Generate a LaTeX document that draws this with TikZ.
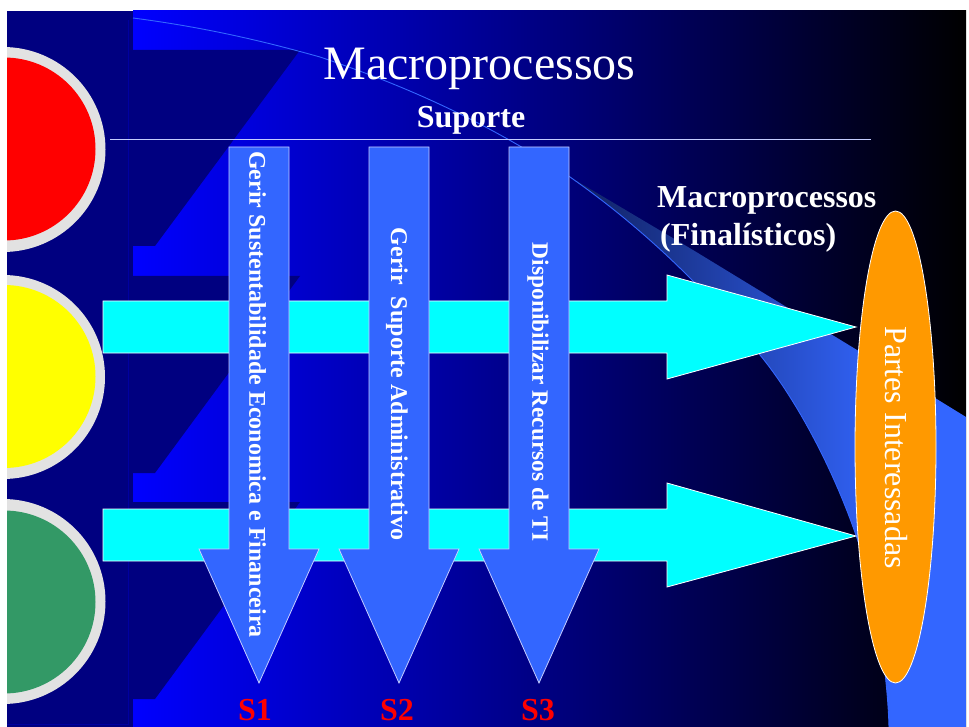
\documentclass[tikz,border=0pt]{standalone}
\usepackage{fontspec}
\usetikzlibrary{shapes.geometric}
\setmainfont{Liberation Serif}
\definecolor{navy}{HTML}{000080}
\definecolor{navyline}{HTML}{0000A0}
\definecolor{panelblue}{HTML}{3366FF}
\definecolor{ruleline}{HTML}{C4CCFF}
\definecolor{ringgrey}{HTML}{E2E2E2}
\definecolor{amber}{HTML}{FF9900}
\definecolor{lampgreen}{HTML}{339966}
\definecolor{lampyellow}{HTML}{FFFF00}
\definecolor{lampred}{HTML}{FF0000}
\definecolor{aqua}{HTML}{00FFFF}
\definecolor{wedgedark}{HTML}{102060}
\newcommand{\sweepcurve}{(133,18) .. controls (210,28) and (270,43) .. (320,57) .. controls (400,84) and (480,118) .. (570,177) .. controls (640,226) and (700,283) .. (760,355) .. controls (805,410) and (852,505) .. (872,590) .. controls (882,640) and (888,690) .. (889,727)}
\tikzset{
  x=1pt,y=-1pt,
  downarrow/.style={fill=panelblue,draw=ruleline,line width=0.8pt,line join=miter},
  rightarrow/.style={fill=aqua,draw=white,line width=0.8pt,line join=miter},
  backshape/.style={fill=navy},
  ringdisc/.style={fill=ringgrey},
  whitetext/.style={text=white,inner sep=0pt,font=\fontsize{#1}{#1}\selectfont},
  whitebold/.style={text=white,inner sep=0pt,font=\fontsize{#1}{#1}\selectfont\bfseries},
  redlabel/.style={text=lampred,inner sep=0pt,anchor=base,font=\fontsize{32}{32}\selectfont\bfseries},
}
\begin{document}
\begin{tikzpicture}
\useasboundingbox (0,0) rectangle (969,727);
\fill[white] (0,0) rectangle (969,727);
% background panels
\fill[navy] (7,11) rectangle (133,727);
\shade[left color=blue,right color=black] (133,11) rectangle (966,727);
% repeated dark pattern
\fill[backshape] (133,50) -- (300,50) -- (155,246) -- (133,246) -- cycle;
\fill[backshape] (133,276) -- (300,276) -- (155,473) -- (133,473) -- cycle;
\fill[backshape] (133,502) -- (300,502) -- (155,699) -- (133,699) -- cycle;
\draw[navyline,line width=0.6pt] (128.5,20) -- (128.5,724) -- (7,724);
% sweeping wedge
\begin{scope}
  \clip (570,177) -- (693,250) -- (857,350) -- (966,417) -- (966,727) -- (889,727)
        .. controls (888,690) and (882,640) .. (872,590)
        .. controls (852,505) and (805,410) .. (760,355)
        .. controls (700,283) and (640,226) .. (570,177) -- cycle;
  \shade[left color=wedgedark,right color=panelblue] (570,170) rectangle (892,727);
  \fill[panelblue] (891,170) rectangle (966,727);
\end{scope}
\draw[panelblue,line width=0.9pt] \sweepcurve;
% lamps
\begin{scope}
  \clip (7,11) rectangle (133,727);
  \fill[ringdisc] (3,149.5) circle[radius=102.5];
  \fill[lampred] (4,149) circle[radius=91.5];
  \fill[ringdisc] (3,377) circle[radius=102];
  \fill[lampyellow] (4,376.5) circle[radius=91.5];
  \fill[ringdisc] (3,601.5) circle[radius=102.5];
  \fill[lampgreen] (4,602) circle[radius=91.5];
\end{scope}
% rule
\draw[ruleline,line width=0.7pt] (110,139.5) -- (871,139.5);
% horizontal arrows
\draw[rightarrow] (103,301) -- (667,301) -- (667,275) -- (856,327) -- (667,379) -- (667,353) -- (103,353) -- cycle;
\draw[rightarrow] (103,509) -- (667,509) -- (667,483) -- (856,536) -- (667,587) -- (667,561) -- (103,561) -- cycle;
% vertical arrows
\draw[downarrow] (229,147) -- (289,147) -- (289,549) -- (319,549) -- (259,683) -- (199,549) -- (229,549) -- cycle;
\draw[downarrow] (369,147) -- (429,147) -- (429,549) -- (459,549) -- (399,683) -- (339,549) -- (369,549) -- cycle;
\draw[downarrow] (509,147) -- (569,147) -- (569,549) -- (599,549) -- (539,683) -- (479,549) -- (509,549) -- cycle;
% ellipse
\node[draw=white,fill=amber,line width=0.8pt,ellipse,minimum width=81pt,minimum height=472pt,inner sep=0pt,anchor=center] (party) at (895.5,447) {};
\node[whitetext=32,rotate=-90] (partytext) at (896,447.5) {Partes Interessadas};
% titles
\node[whitetext=48,anchor=base] (title) at (479.5,80) {Macroprocessos};
\node[whitebold=32,anchor=base] (support) at (471,128) {Suporte};
\node[whitebold=32,anchor=base west] (mf1) at (657,208) {Macroprocessos};
\node[whitebold=32,anchor=base west] (mf2) at (660,246) {(Finalísticos)};
% arrow texts
\node[whitebold=24,rotate=-90] (t1) at (257.5,394.5) {Gerir Sustentabilidade Economica e Financeira};
\node[whitebold=24,rotate=-90] (t2) at (397,384) {Gerir\ \ Suporte Administrativo};
\node[whitebold=23.4,rotate=-90] (t3) at (538,392) {Disponibilizar Recursos de TI};
% labels
\node[redlabel] (s1) at (255,720) {S1};
\node[redlabel] (s2) at (397,720) {S2};
\node[redlabel] (s3) at (538,720) {S3};
\end{tikzpicture}
\end{document}
